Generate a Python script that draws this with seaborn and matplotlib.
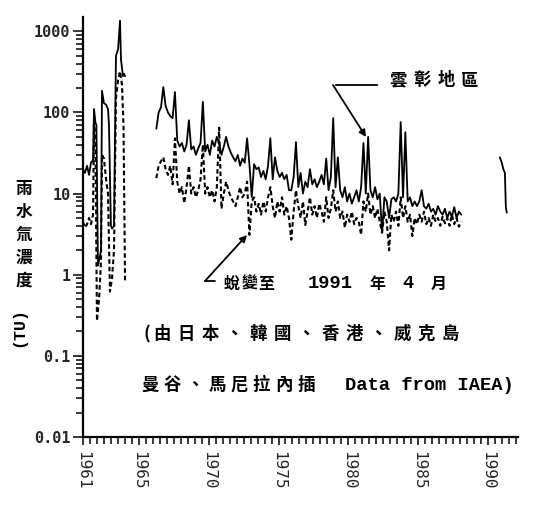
import numpy as np
import pandas as pd
import matplotlib
matplotlib.use("Agg")
import matplotlib.pyplot as plt
import matplotlib.ticker as mticker
import seaborn as sns

# ---- data -------------------------------------------------------------
# 1961-1964 record (decimal years)
early_local_year = [1961.00, 1961.14, 1961.29, 1961.43, 1961.57, 1961.72, 1961.79,
                    1961.89, 1961.96, 1962.07, 1962.15, 1962.29, 1962.36, 1962.50,
                    1962.65, 1962.79, 1962.86, 1963.00, 1963.08, 1963.22, 1963.36,
                    1963.51, 1963.65, 1963.72, 1963.86, 1963.93, 1964.01]
early_local = [20, 18, 22, 17, 24, 26, 110, 75, 70, 1.3, 1.5, 2.0, 185, 130,
               125, 110, 70, 4.0, 3.7, 4.0, 500, 600, 1350, 450, 280, 300, 280]

early_decayed_year = [1961.00, 1961.14, 1961.29, 1961.43, 1961.57, 1961.72, 1961.79,
                      1961.89, 1962.00, 1962.15, 1962.29, 1962.36, 1962.50, 1962.65,
                      1962.79, 1962.93, 1963.08, 1963.22, 1963.36, 1963.51, 1963.65,
                      1963.79, 1963.90, 1964.01]
early_decayed = [4.5, 3.8, 4.2, 5.0, 4.2, 5.5, 90, 40, 0.27, 0.5, 1.5, 30, 27, 15,
                 10, 0.62, 0.9, 2.0, 150, 250, 320, 220, 70, 0.85]

# 1966-1988 record, one value every two months
late_start = "1966-04-01"
late_local = [63, 100, 115, 205, 120, 100, 90, 85, 178, 45,
              38, 42, 33, 40, 80, 35, 38, 30, 36, 42,
              135, 33, 40, 30, 45, 38, 50, 42, 30, 38,
              50, 38, 32, 28, 25, 30, 22, 27, 24, 48,
              23, 9, 23, 20, 21, 16, 19, 15, 22, 48,
              15, 28, 19, 16, 18, 15, 17, 11, 11, 16,
              43, 12, 18, 10, 14, 12, 20, 13, 15, 12,
              14, 17, 13, 27, 11, 16, 85, 12, 28, 11,
              9, 12, 8, 10, 7.5, 9, 11, 8, 12, 42,
              10, 50, 11, 9, 12, 8.5, 10, 3.3, 9, 8,
              5, 8.5, 9, 8, 10, 76, 9, 57, 8, 9,
              7, 8, 7, 8, 11, 7, 6.5, 7.5, 6, 6.5,
              5.5, 7, 6, 5.5, 6.5, 5, 6, 5.2, 6.8, 5,
              6, 5.5]
late_decayed = [15.5, 22, 25, 28, 20, 17, 22, 13, 48, 14,
                10, 12, 7.6, 12, 22, 10, 12, 9, 11, 15,
                40, 10, 12, 9, 11, 8, 12, 65, 6.5, 10,
                14, 11, 9, 8, 7, 9, 12, 9, 10, 14,
                3.1, 8, 9, 6, 7.5, 5.5, 8, 6, 9, 12,
                7, 5, 8, 6, 9, 5.5, 7, 5, 2.7, 6,
                11, 7, 5, 8, 4.1, 6, 9, 5.5, 7, 5,
                7.5, 6, 4.5, 9, 5, 6.5, 11, 6, 8, 5,
                6, 3.8, 5.5, 4.5, 6, 4.2, 5, 4.5, 3.1, 8,
                6, 10, 5.5, 7, 5, 6.5, 4.5, 3.3, 6, 4.5,
                2.0, 5.5, 4.5, 6, 4, 9, 5, 7, 4.5, 5.5,
                3.0, 5, 4.2, 5.5, 4.5, 6, 4.2, 5, 4, 5.5,
                4.5, 5, 4, 5.2, 4.3, 5, 4, 5.5, 4.2, 5,
                3.9, 4.5]

# 1990-1991 record
tail_year = [1990.85, 1990.99, 1991.10, 1991.21, 1991.28, 1991.35]
tail_local = [28, 24, 20, 18, 6.8, 5.8]

year_ticks = [1961, 1965, 1970, 1975, 1980, 1985, 1990]
tu_ticks = [0.01, 0.1, 1, 10, 100, 1000]
tu_labels = ["0.01", "0.1", "1", "10", "100", "1000"]

ylabel_chars = "雨水氚濃度"
ylabel_unit = "(TU)"
label_region = "雲彰地區"
label_decay = ["蛻", "變", "至", "1991", "年", "4", "月"]
note_line1 = "由日本、韓國、香港、威克島"
note_line2 = "曼谷、馬尼拉內插"
note_line2_en = "Data from IAEA)"

# ---- frames -----------------------------------------------------------
dates = pd.date_range(late_start, periods=len(late_local), freq="2MS")
late_year = dates.year + (dates.month - 1) / 12.0
late_df = pd.DataFrame({"year": late_year, "local": late_local,
                        "decayed": late_decayed})
early_local_df = pd.DataFrame({"year": early_local_year, "local": early_local})
early_decayed_df = pd.DataFrame({"year": early_decayed_year, "decayed": early_decayed})
tail_df = pd.DataFrame({"year": tail_year, "local": tail_local})

# ---- figure -----------------------------------------------------------
sns.set_theme(style="ticks")
plt.rcParams["font.family"] = ["Noto Sans CJK TC", "DejaVu Sans"]

W, H = 537, 508
fig = plt.figure(figsize=(W / 100, H / 100), dpi=100)
fig.patch.set_facecolor("white")
ax = fig.add_axes([83 / W, 1 - 437 / H, (518 - 83) / W, (437 - 17) / H])
ax.set_facecolor("white")

solid_kw = dict(color="black", linewidth=1.3, estimator=None, sort=False, ax=ax)
dash_kw = dict(color="black", linewidth=1.5, linestyle=(0, (2.2, 1.4)),
               estimator=None, sort=False, ax=ax)

sns.lineplot(data=early_decayed_df, x="year", y="decayed", **dash_kw)
sns.lineplot(data=late_df, x="year", y="decayed", **dash_kw)
sns.lineplot(data=early_local_df, x="year", y="local", **solid_kw)
sns.lineplot(data=late_df, x="year", y="local", **solid_kw)
sns.lineplot(data=tail_df, x="year", y="local", **solid_kw)

ax.set_yscale("log")
ax.set_ylim(0.01, 1500)
ax.set_xlim(1961.0, 1992.15)
ax.set_xlabel("")
ax.set_ylabel("")

ax.set_yticks(tu_ticks)
ax.set_yticklabels(tu_labels, fontfamily="DejaVu Sans Mono", fontweight="bold",
                   fontsize=11)
ax.yaxis.set_minor_locator(mticker.LogLocator(base=10, subs=range(2, 10), numticks=20))
ax.yaxis.set_minor_formatter(mticker.NullFormatter())

ax.set_xticks(year_ticks)
ax.set_xticklabels([str(y) for y in year_ticks], rotation=-90,
                   fontfamily="DejaVu Sans Mono", fontsize=11.5, va="top", ha="center")
ax.xaxis.set_minor_locator(mticker.MultipleLocator(0.5))

ax.tick_params(axis="both", which="both", direction="out", color="black", width=1.1)
ax.tick_params(axis="y", which="major", length=7, pad=2)
ax.tick_params(axis="y", which="minor", length=5)
ax.tick_params(axis="x", which="major", length=6, pad=4)
ax.tick_params(axis="x", which="minor", length=5)

sns.despine(ax=ax)
for side in ("left", "bottom"):
    ax.spines[side].set_linewidth(1.6)
    ax.spines[side].set_color("black")


def ftext(x, y, s, **kw):
    fig.text(x / W, 1 - y / H, s, **kw)


cjk = dict(fontfamily=["Noto Sans CJK TC", "DejaVu Sans"], fontweight="bold",
           ha="center", va="center", color="black")
mono = dict(fontfamily="Liberation Mono", fontweight="bold", va="center",
            color="black")

# y axis title, stacked characters plus rotated unit
for i, ch in enumerate(ylabel_chars):
    ftext(24, 189 + i * 23, ch, fontsize=12, **cjk)
ftext(19, 327, ylabel_unit, rotation=90, ha="center",
      **{k: v for k, v in mono.items()}, fontsize=12)

# region label with leader arrow
for i, ch in enumerate(label_region):
    ftext(398 + i * 24, 80, ch, fontsize=12.5, **cjk)
ax.annotate("", xy=(380, H - 85), xytext=(333, H - 85), xycoords="figure pixels",
            textcoords="figure pixels",
            arrowprops=dict(arrowstyle="-", color="black", lw=1.3))
ax.annotate("", xy=(366, H - 137), xytext=(333, H - 85), xycoords="figure pixels",
            textcoords="figure pixels",
            arrowprops=dict(arrowstyle="-|>", color="black", lw=1.3,
                            mutation_scale=10, shrinkA=0, shrinkB=0))

# decay label with leader arrow
decay_x = [232, 249, 266, 308, 377, 408, 439]
for x, s in zip(decay_x, label_decay):
    if s.isdigit():
        ftext(x, 284, s, fontsize=13.5, ha="left" if len(s) > 1 else "center", **mono)
    else:
        ftext(x, 284, s, fontsize=11.5, **cjk)
ax.annotate("", xy=(247, H - 235), xytext=(205, H - 281), xycoords="figure pixels",
            textcoords="figure pixels",
            arrowprops=dict(arrowstyle="-|>", color="black", lw=1.3,
                            mutation_scale=10, shrinkA=0, shrinkB=0))
ax.annotate("", xy=(215, H - 281), xytext=(205, H - 281), xycoords="figure pixels",
            textcoords="figure pixels",
            arrowprops=dict(arrowstyle="-", color="black", lw=1.3,
                            shrinkA=0, shrinkB=0))

# data-source note
ftext(147, 334, "(", fontsize=12.5, **cjk)
for i, ch in enumerate(note_line1):
    ftext(162 + i * 24, 334, ch, fontsize=12.5, **cjk)
for i, ch in enumerate(note_line2):
    ftext(150 + i * 22.3, 385, ch, fontsize=12.5, **cjk)
ftext(345, 386, note_line2_en, fontsize=13.5, ha="left", **mono)

fig.savefig("out.png", dpi=100, facecolor="white")
